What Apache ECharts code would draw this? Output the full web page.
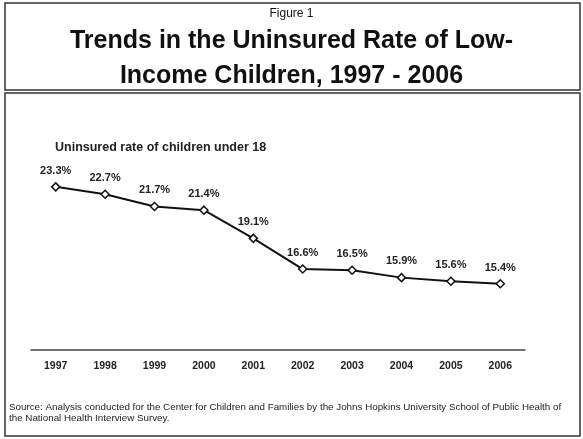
<!DOCTYPE html>
<html>
<head>
<meta charset="utf-8">
<script src="https://cdn.jsdelivr.net/npm/echarts@6/dist/echarts.min.js"></script>
<style>
  html, body { margin: 0; padding: 0; background: #fff; }
  #chart { width: 583px; height: 439px; }
</style>
</head>
<body>
<div id="chart"></div>
<script>
// data
var years = ['1997', '1998', '1999', '2000', '2001', '2002', '2003', '2004', '2005', '2006'];
var uninsuredRate = [23.3, 22.7, 21.7, 21.4, 19.1, 16.6, 16.5, 15.9, 15.6, 15.4];

var font = '"Liberation Sans", Arial, sans-serif';
var chart = echarts.init(document.getElementById('chart'));

chart.setOption({
  backgroundColor: '#fff',
  animation: false,
  textStyle: { fontFamily: font },
  title: [
    {
      text: 'Figure 1',
      left: 'center',
      top: 3,
      textStyle: { fontSize: 12, fontWeight: 'normal', color: '#111', fontFamily: font }
    },
    {
      text: 'Trends in the Uninsured Rate of Low-\nIncome Children, 1997 - 2006',
      left: 'center',
      top: 19,
      textStyle: { fontSize: 25, fontWeight: 'bold', color: '#111', lineHeight: 35, fontFamily: font }
    },
    {
      text: 'Uninsured rate of children under 18',
      left: 50,
      top: 136,
      textStyle: { fontSize: 12.5, fontWeight: 'bold', color: '#222', fontFamily: font }
    }
  ],
  graphic: [
    {
      type: 'rect',
      shape: { x: 5, y: 3, width: 575, height: 87 },
      style: { fill: 'none', stroke: '#333', lineWidth: 1.5 }
    },
    {
      type: 'rect',
      shape: { x: 5, y: 93, width: 575, height: 343 },
      style: { fill: 'none', stroke: '#333', lineWidth: 1.5 }
    },
    {
      type: 'text',
      left: 9,
      top: 402,
      style: {
        text: 'Source: Analysis conducted for the Center for Children and Families by the Johns Hopkins University School of Public Health of\nthe National Health Interview Survey.',
        fontSize: 9.8,
        lineHeight: 11,
        fill: '#222',
        fontFamily: font
      }
    }
  ],
  grid: { left: 31, right: 58, top: 166, bottom: 89 },
  xAxis: {
    type: 'category',
    data: years,
    boundaryGap: true,
    axisLine: { lineStyle: { color: '#444', width: 1.5 } },
    axisTick: { show: false },
    axisLabel: { fontSize: 10.5, fontWeight: 'bold', color: '#222', margin: 11, fontFamily: font }
  },
  yAxis: {
    type: 'value',
    min: 10,
    max: 25,
    show: false,
    splitLine: { show: false }
  },
  series: [
    {
      type: 'line',
      data: uninsuredRate,
      symbol: 'diamond',
      symbolSize: 8,
      itemStyle: { color: '#fff', borderColor: '#111', borderWidth: 1.5 },
      lineStyle: { color: '#111', width: 2 },
      label: {
        show: true,
        position: 'top',
        distance: 6,
        formatter: function (p) { return p.value.toFixed(1) + '%'; },
        fontSize: 11,
        fontWeight: 'bold',
        color: '#222',
        fontFamily: font
      }
    }
  ]
});
</script>
</body>
</html>
